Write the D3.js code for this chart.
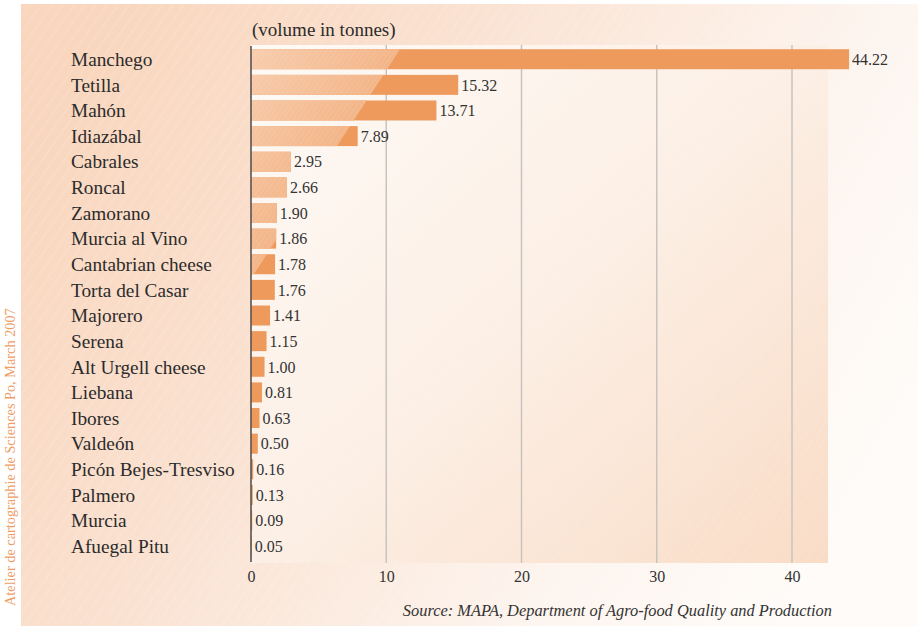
<!DOCTYPE html>
<html><head><meta charset="utf-8">
<script src="https://cdn.jsdelivr.net/npm/d3@7"></script>
<style>html,body{margin:0;padding:0;background:#fff;}svg{display:block;}</style>
</head><body>
<script>
const categories = ["Manchego","Tetilla","Mahón","Idiazábal","Cabrales","Roncal","Zamorano","Murcia al Vino","Cantabrian cheese","Torta del Casar","Majorero","Serena","Alt Urgell cheese","Liebana","Ibores","Valdeón","Picón Bejes-Tresviso","Palmero","Murcia","Afuegal Pitu"];
const values = [44.22,15.32,13.71,7.89,2.95,2.66,1.90,1.86,1.78,1.76,1.41,1.15,1.00,0.81,0.63,0.50,0.16,0.13,0.09,0.05];
const valueLabels = ["44.22","15.32","13.71","7.89","2.95","2.66","1.90","1.86","1.78","1.76","1.41","1.15","1.00","0.81","0.63","0.50","0.16","0.13","0.09","0.05"];
const tickValues = [0,10,20,30,40];
const unitLabel = "(volume in tonnes)";
const sourceLabel = "Source: MAPA, Department of Agro-food Quality and Production";
const creditLabel = "Atelier de cartographie de Sciences Po, March 2007";

const W = 918, H = 626;
const serif = "'Liberation Serif','Times New Roman',serif";
const svg = d3.select("body").append("svg").attr("width", W).attr("height", H);
const defs = svg.append("defs");

// outer panel gradient
const g1 = defs.append("linearGradient").attr("id","panelGrad").attr("x1","0").attr("y1","0.2").attr("x2","1").attr("y2","0.6");
g1.append("stop").attr("offset","0").attr("stop-color","#f9d6bd");
g1.append("stop").attr("offset","0.35").attr("stop-color","#fae1d0");
g1.append("stop").attr("offset","0.75").attr("stop-color","#fdf4ee");
g1.append("stop").attr("offset","1").attr("stop-color","#fefbf8");
// plot area gradient
const g2 = defs.append("linearGradient").attr("id","plotGrad").attr("x1","0").attr("y1","0").attr("x2","1").attr("y2","1");
g2.append("stop").attr("offset","0").attr("stop-color","#fefaf6");
g2.append("stop").attr("offset","0.5").attr("stop-color","#fcefe5");
g2.append("stop").attr("offset","1").attr("stop-color","#f9dcc6");
// hatch pattern
const pat = defs.append("pattern").attr("id","hatch").attr("patternUnits","userSpaceOnUse")
  .attr("width",9).attr("height",9).attr("patternTransform","rotate(35)");
pat.append("line").attr("x1",0).attr("y1",0).attr("x2",0).attr("y2",9).attr("stroke","#ffffff").attr("stroke-opacity",0.4).attr("stroke-width",0.8);
const pat2 = defs.append("pattern").attr("id","hatch2").attr("patternUnits","userSpaceOnUse")
  .attr("width",4).attr("height",4).attr("patternTransform","rotate(35)");
pat2.append("line").attr("x1",0).attr("y1",0).attr("x2",0).attr("y2",4).attr("stroke","#ffffff").attr("stroke-opacity",0.18).attr("stroke-width",1);
// light bar gradient
const g3 = defs.append("linearGradient").attr("id","lightGrad").attr("gradientUnits","userSpaceOnUse")
  .attr("x1",220).attr("y1",30).attr("x2",400).attr("y2",147);
g3.append("stop").attr("offset","0").attr("stop-color","#f9d4b9");
g3.append("stop").attr("offset","1").attr("stop-color","#f1ab78");

// panel
svg.append("rect").attr("x",21).attr("y",4).attr("width",W-21).attr("height",H-4).attr("fill","url(#panelGrad)");
svg.append("rect").attr("x",21).attr("y",4).attr("width",W-21).attr("height",H-4).attr("fill","url(#hatch)");

// scales
const x = d3.scaleLinear().domain([0, 40]).range([251, 792]);
const y = d3.scaleBand().domain(categories).range([46.4, 559.0]).paddingInner(0.22).paddingOuter(0.11);
const plotTop = 45, plotBottom = 563, plotRight = 828;

// plot area
svg.append("rect").attr("x",x(0)).attr("y",plotTop).attr("width",plotRight-x(0)).attr("height",plotBottom-plotTop).attr("fill","url(#plotGrad)");
svg.append("rect").attr("x",x(0)).attr("y",plotTop).attr("width",plotRight-x(0)).attr("height",plotBottom-plotTop).attr("fill","url(#hatch)").attr("opacity",0.6);

// gridlines
svg.append("g").selectAll("line").data(tickValues.filter(d=>d>0)).join("line")
  .attr("x1",d=>x(d)).attr("x2",d=>x(d)).attr("y1",plotTop).attr("y2",plotBottom)
  .attr("stroke","#c9c3bf").attr("stroke-width",1.5);

// clip for light part (diagonal)
defs.append("clipPath").attr("id","lightClip").append("polygon")
  .attr("points", [[200,0],[432,0],[200,357]].map(p=>p.join(",")).join(" "));

// bars
const bars = svg.append("g");
bars.selectAll("rect.b").data(values).join("rect").attr("class","b")
  .attr("x",x(0)).attr("y",(d,i)=>y(categories[i]))
  .attr("width",d=>x(d)-x(0)).attr("height",y.bandwidth()).attr("fill","#ed9a5c");
const light = svg.append("g").attr("clip-path","url(#lightClip)");
light.selectAll("rect.l").data(values).join("rect").attr("class","l")
  .attr("x",x(0)).attr("y",(d,i)=>y(categories[i]))
  .attr("width",d=>x(d)-x(0)).attr("height",y.bandwidth()).attr("fill","url(#lightGrad)");
light.selectAll("rect.h").data(values).join("rect").attr("class","h")
  .attr("x",x(0)).attr("y",(d,i)=>y(categories[i]))
  .attr("width",d=>x(d)-x(0)).attr("height",y.bandwidth()).attr("fill","url(#hatch2)");

// y axis line
svg.append("line").attr("x1",x(0)).attr("x2",x(0)).attr("y1",plotTop+1).attr("y2",plotBottom-1)
  .attr("stroke","#5a5450").attr("stroke-width",1.6);

// value labels
svg.append("g").selectAll("text").data(values).join("text")
  .attr("x",d=>x(d)+3).attr("y",(d,i)=>y(categories[i])+y.bandwidth()/2)
  .attr("dy","0.36em").attr("font-family",serif).attr("font-size",16).attr("fill","#333")
  .text((d,i)=>valueLabels[i]);

// category labels
svg.append("g").selectAll("text").data(categories).join("text")
  .attr("x",71).attr("y",d=>y(d)+y.bandwidth()/2).attr("dy","0.35em")
  .attr("font-family",serif).attr("font-size",19.3).attr("fill","#2b2b2b").text(d=>d);

// x axis ticks
const xAxis = d3.axisBottom(x).tickValues(tickValues).tickSize(0).tickPadding(0).tickFormat(d3.format("d"));
const ax = svg.append("g").attr("transform",`translate(0,${plotBottom+8})`).call(xAxis);
ax.select(".domain").remove();
ax.selectAll("text").attr("font-family",serif).attr("font-size",16).attr("fill","#333").attr("dy","0.71em");

// unit label
svg.append("text").attr("x",252).attr("y",36).attr("font-family",serif).attr("font-size",19).attr("fill","#2b2b2b").text(unitLabel);

// source
svg.append("text").attr("x",832).attr("y",616).attr("text-anchor","end").attr("font-family",serif)
  .attr("font-style","italic").attr("font-size",16.4).attr("fill","#333").text(sourceLabel);

// credit
svg.append("text").attr("transform","translate(15,606) rotate(-90)").attr("font-family",serif)
  .attr("font-size",14.3).attr("fill","#ef9d66").text(creditLabel);
</script>
</body></html>
